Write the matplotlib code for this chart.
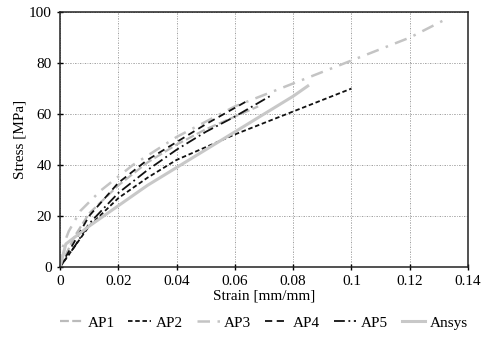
import numpy as np
import matplotlib
matplotlib.use('Agg')
import matplotlib.pyplot as plt

plt.rc('font', family='Liberation Serif', size=11)

# Data (strain [mm/mm], stress [MPa])
ap1_x = [0, 0.005, 0.01, 0.02, 0.03, 0.04, 0.05, 0.06, 0.068]
ap1_y = [0, 12, 21, 32, 41, 48, 54, 59, 63]

ap2_x = [0, 0.005, 0.01, 0.02, 0.03, 0.04, 0.05, 0.06, 0.07, 0.08, 0.09, 0.1]
ap2_y = [0, 8, 16, 27, 35, 42, 47, 52, 56.5, 61, 65.5, 70]

ap3_x = [0, 0.001, 0.003, 0.007, 0.014, 0.025, 0.04, 0.06, 0.08, 0.1, 0.12, 0.132]
ap3_y = [0, 8, 14, 22, 30, 40, 51, 63, 72, 81, 90, 97]

ap4_x = [0, 0.005, 0.01, 0.02, 0.03, 0.04, 0.05, 0.064]
ap4_y = [0, 10, 20, 33, 42, 49, 56, 65]

ap5_x = [0, 0.005, 0.01, 0.02, 0.03, 0.04, 0.05, 0.06, 0.072]
ap5_y = [0, 8, 17, 29, 38, 46, 53, 59, 67]

ansys_x = [0, 0.002, 0.01, 0.02, 0.03, 0.04, 0.05, 0.06, 0.07, 0.08, 0.085]
ansys_y = [0, 9, 16, 24, 32, 39, 46, 53, 60, 67, 71]

fig = plt.figure(figsize=(4.84, 3.37), dpi=100)
ax = fig.add_axes([0.124, 0.208, 0.843, 0.756])

ax.grid(True, color='#777777', linestyle=(0, (2, 2, 1, 2)), linewidth=0.5)
ax.set_axisbelow(True)

ax.plot(ap1_x, ap1_y, color='#bbbbbb', lw=1.6, ls=(0, (4, 1.5)), label='AP1')
ax.plot(ap2_x, ap2_y, color='#111111', lw=1.3, ls=(0, (2.5, 1.5)), label='AP2')
ax.plot(ap3_x, ap3_y, color='#c4c4c4', lw=1.8, ls=(0, (5, 3, 1, 3)), label='AP3')
ax.plot(ap4_x, ap4_y, color='#111111', lw=1.3, ls=(0, (4, 2.5)), label='AP4')
ax.plot(ap5_x, ap5_y, color='#111111', lw=1.3, ls=(0, (6, 2, 1, 2)), label='AP5')
ax.plot(ansys_x, ansys_y, color='#c8c8c8', lw=2.2, ls='-', label='Ansys')

ax.set_xlim(0, 0.14)
ax.set_ylim(0, 100)
ax.set_xticks([0, 0.02, 0.04, 0.06, 0.08, 0.1, 0.12, 0.14])
ax.set_xticklabels(['0', '0.02', '0.04', '0.06', '0.08', '0.1', '0.12', '0.14'])
ax.set_yticks([0, 20, 40, 60, 80, 100])
ax.tick_params(direction='inout', length=5, width=1, labelsize=11)
for s in ax.spines.values():
    s.set_linewidth(1.1)
    s.set_color('#222222')

ax.set_xlabel('Strain [mm/mm]', fontsize=11, labelpad=1)
ax.set_ylabel('Stress [MPa]', fontsize=11, labelpad=2)

fig.legend(loc='lower center', ncol=6, frameon=False, fontsize=11,
           bbox_to_anchor=(0.545, -0.005), handlelength=1.5, handletextpad=0.3,
           columnspacing=0.9, borderaxespad=0.2)

fig.savefig('out.png', dpi=100)
